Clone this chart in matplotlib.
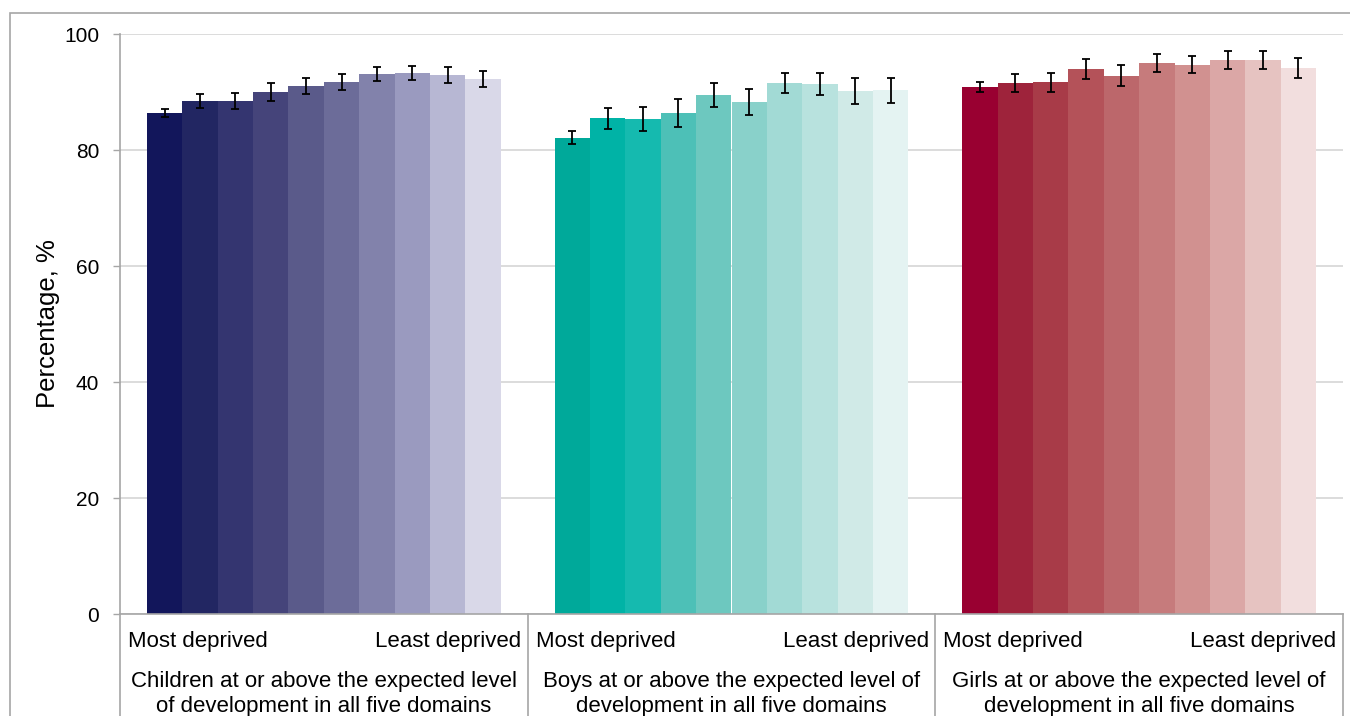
import numpy as np
import matplotlib.pyplot as plt
from matplotlib.patches import Rectangle
from matplotlib.lines import Line2D

plt.rcParams['font.family'] = ['Liberation Sans', 'DejaVu Sans']

groups = ['Children at or above the expected level\nof development in all five domains',
          'Boys at or above the expected level of\ndevelopment in all five domains',
          'Girls at or above the expected level of\ndevelopment in all five domains']

# deciles, most deprived -> least deprived
children = [86.4, 88.4, 88.4, 90.0, 91.0, 91.7, 93.1, 93.3, 92.9, 92.2]
children_err = [0.7, 1.2, 1.4, 1.5, 1.4, 1.4, 1.15, 1.25, 1.4, 1.4]
boys = [82.1, 85.5, 85.3, 86.4, 89.5, 88.3, 91.6, 91.4, 90.2, 90.3]
boys_err = [1.1, 1.8, 2.1, 2.35, 2.1, 2.3, 1.7, 1.85, 2.2, 2.15]
girls = [90.9, 91.55, 91.7, 94.0, 92.8, 95.0, 94.7, 95.5, 95.5, 94.1]
girls_err = [0.85, 1.5, 1.65, 1.7, 1.85, 1.6, 1.5, 1.5, 1.55, 1.75]

navy = ['#12165B', '#222662', '#343570', '#45447A', '#5A5A8A',
        '#6C6C99', '#8282AB', '#9A9ABF', '#B7B7D3', '#D9D8E8']
teal = ['#00A99A', '#00B3A6', '#15BAAF', '#4DC0B7', '#6DC8BF',
        '#89D1CA', '#A2DAD5', '#B8E2DE', '#D0EAE7', '#E4F3F2']
reds = ['#990031', '#9E233B', '#A83B48', '#B45259', '#BC676B',
        '#C67B7C', '#D19190', '#DBA7A6', '#E6C3C1', '#F2DEDE']

values = [children, boys, girls]
errors = [children_err, boys_err, girls_err]
palettes = [navy, teal, reds]

W, H = 1350, 716
fig = plt.figure(figsize=(W / 100, H / 100), dpi=100)
ax = fig.add_axes([120 / W, (H - 614) / H, (1343 - 120) / W, (614 - 34) / H])

n = 10
bw = 0.0868
for g in range(3):
    xs = g + (np.arange(n) - (n - 1) / 2) * bw
    ax.bar(xs, values[g], width=bw, color=palettes[g], zorder=2)
    ax.errorbar(xs, values[g], yerr=errors[g], fmt='none', ecolor='black',
                elinewidth=1.3, capsize=3.2, capthick=1.3, zorder=3)

ax.set_xlim(-0.5, 2.5)
ax.set_ylim(0, 100)
ax.set_yticks([0, 20, 40, 60, 80, 100])
ax.yaxis.grid(True, color='#D9D9D9', linewidth=1.3, zorder=0)
ax.set_axisbelow(True)
ax.set_xticks([])
ax.tick_params(axis='y', length=5, width=1, color='#A6A6A6', labelsize=15, pad=10)
ax.set_ylabel('Percentage, %', fontsize=18.5, labelpad=3)
for s in ['top', 'right']:
    ax.spines[s].set_visible(False)
for s in ['left', 'bottom']:
    ax.spines[s].set_color('#A6A6A6')
    ax.spines[s].set_linewidth(1.2)

# category labels below axis
trans = ax.get_xaxis_transform()
ax_h = 614 - 34
for g in range(3):
    ax.text(g - 0.5 + 0.02, -27 / ax_h, 'Most deprived', transform=trans,
            ha='left', va='center', fontsize=16)
    ax.text(g + 0.5 - 0.016, -27 / ax_h, 'Least deprived', transform=trans,
            ha='right', va='center', fontsize=16)
    ax.text(g, -57 / ax_h, groups[g], transform=trans, ha='center', va='top',
            fontsize=16, linespacing=1.22)

# group separators
for b in [-0.5, 0.5, 1.5, 2.5]:
    ax.add_line(Line2D([b, b], [0, -0.2], transform=trans, color='#A6A6A6',
                       linewidth=1.2, clip_on=False))

# outer chart border
fig.add_artist(Rectangle((10 / W, -0.05), (W + 20) / W, (H - 13) / H + 0.05,
                         transform=fig.transFigure, fill=False,
                         edgecolor='#A6A6A6', linewidth=1.2))

fig.savefig('out.png', dpi=100)
